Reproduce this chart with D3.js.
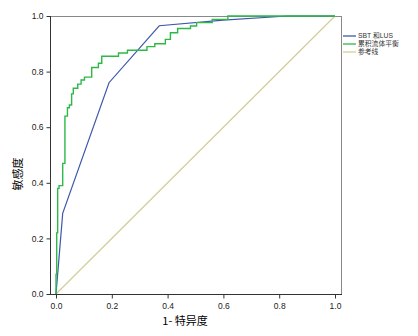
<!DOCTYPE html>
<html>
<head>
<meta charset="utf-8">
<script src="https://cdn.jsdelivr.net/npm/d3@7"></script>
<style>
  body { margin: 0; background: #fff; }
  svg { display: block; }
</style>
</head>
<body>
<svg id="chart" width="418" height="336"></svg>
<script>
// ROC curves
const seriesNames = ["SBT 和LUS", "累积流体平衡", "参考线"];
const seriesColors = ["#3e58ac", "#2eb848", "#d3ce97"];

const sbtX = [0, 0.01, 0.024, 0.19, 0.37, 0.6, 0.83, 1];
const sbtY = [0, 0.12, 0.29, 0.76, 0.965, 0.985, 1, 1];

// step points of the cumulative fluid balance curve (x of each jump, new y)
const fluidX = [0, 0.0025, 0.006, 0.011, 0.024, 0.032, 0.041, 0.048, 0.056, 0.062, 0.078, 0.09, 0.102, 0.128, 0.152, 0.164, 0.224, 0.256, 0.326, 0.354, 0.392, 0.41, 0.436, 0.482, 0.504, 0.56, 0.616, 0.683, 1];
const fluidY = [0, 0.07, 0.22, 0.38, 0.39, 0.47, 0.64, 0.67, 0.68, 0.72, 0.74, 0.755, 0.77, 0.78, 0.815, 0.83, 0.855, 0.867, 0.877, 0.89, 0.90, 0.916, 0.94, 0.955, 0.964, 0.976, 0.988, 1.0, 1.0];

const refX = [0, 1];
const refY = [0, 1];

const ticks = [0, 0.2, 0.4, 0.6, 0.8, 1.0];

const svg = d3.select("#chart");
const margens = { left: 50, right: 77, top: 16, bottom: 42 };
const width = 418, height = 336;
const frameW = width - margens.left - margens.right;
const frameH = height - margens.top - margens.bottom;

const x = d3.scaleLinear().domain([0, 1]).range([margens.left + 6, margens.left + frameW - 6]);
const y = d3.scaleLinear().domain([0, 1]).range([margens.top + frameH, margens.top]);

// frame
svg.append("rect")
    .attr("x", margens.left + 0.5)
    .attr("y", margens.top + 0.5)
    .attr("width", frameW)
    .attr("height", frameH)
    .attr("fill", "none")
    .attr("stroke", "#888")
    .attr("stroke-width", 1);

const line = d3.line().x(d => x(d[0])).y(d => y(d[1]));
const stepLine = d3.line().x(d => x(d[0])).y(d => y(d[1])).curve(d3.curveStepBefore);

const g = svg.append("g");

g.append("path")
    .attr("d", line(d3.zip(refX, refY)))
    .attr("fill", "none")
    .attr("stroke", seriesColors[2])
    .attr("stroke-width", 1.2);

g.append("path")
    .attr("d", line(d3.zip(sbtX, sbtY)))
    .attr("fill", "none")
    .attr("stroke", seriesColors[0])
    .attr("stroke-width", 1.2);

g.append("path")
    .attr("d", stepLine(d3.zip(fluidX, fluidY)))
    .attr("fill", "none")
    .attr("stroke", seriesColors[1])
    .attr("stroke-width", 1.4);

// axes
const axisFont = "Arial, 'Liberation Sans', sans-serif";

svg.append("g")
    .attr("transform", `translate(0, ${margens.top + frameH + 0.5})`)
    .call(d3.axisBottom(x).tickValues(ticks).tickFormat(d3.format(".1f")).tickSize(4).tickSizeOuter(0))
    .call(a => a.select(".domain").attr("stroke", "#333").attr("d", `M${margens.left},0H${margens.left + frameW + 1}`))
    .call(a => a.selectAll(".tick line").attr("stroke", "#333"))
    .call(a => a.selectAll("text").attr("font-family", axisFont).attr("font-size", "8.5px").attr("fill", "#222").attr("dy", "0.9em"));

svg.append("g")
    .attr("transform", `translate(${margens.left + 0.5}, 0)`)
    .call(d3.axisLeft(y).tickValues(ticks).tickFormat(d3.format(".1f")).tickSize(4).tickSizeOuter(0))
    .call(a => a.select(".domain").attr("stroke", "#333").attr("d", `M0,${margens.top}V${margens.top + frameH + 1}`))
    .call(a => a.selectAll(".tick line").attr("stroke", "#333"))
    .call(a => a.selectAll("text").attr("font-family", axisFont).attr("font-size", "8.5px").attr("fill", "#222"));

// axis titles
const cjkFont = "'Noto Sans CJK SC', serif";
svg.append("text")
    .attr("x", 185)
    .attr("y", 325)
    .attr("text-anchor", "middle")
    .attr("font-family", cjkFont)
    .attr("font-size", "11px")
    .attr("fill", "#000")
    .text("1- 特异度");

svg.append("text")
    .attr("transform", "translate(22, 174) rotate(-90)")
    .attr("text-anchor", "middle")
    .attr("font-family", cjkFont)
    .attr("font-size", "11px")
    .attr("fill", "#000")
    .text("敏感度");

// legend
const legend = svg.append("g")
    .attr("transform", "translate(343, 36)");

const legendItems = legend.selectAll("g")
    .data(seriesNames)
    .join("g")
    .attr("transform", (d, i) => `translate(0, ${i * 8})`);

legendItems.append("line")
    .attr("x1", 0)
    .attr("x2", 13)
    .attr("y1", 0)
    .attr("y2", 0)
    .attr("stroke", (d, i) => seriesColors[i])
    .attr("stroke-width", 1.3);

legendItems.append("text")
    .attr("x", 15)
    .attr("y", 0)
    .attr("dy", "0.35em")
    .attr("font-family", "Arial, 'Noto Sans CJK SC', sans-serif")
    .attr("font-size", "6.8px")
    .attr("fill", "#333")
    .text(d => d);
</script>
</body>
</html>
